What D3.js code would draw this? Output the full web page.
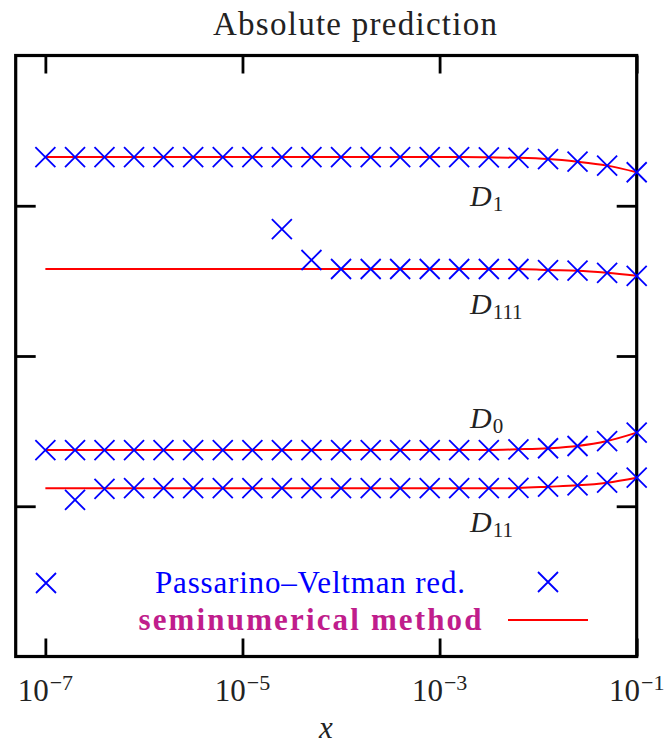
<!DOCTYPE html>
<html><head><meta charset="utf-8">
<script src="https://cdn.jsdelivr.net/npm/d3@7"></script>
<style>body{margin:0;background:#fff}</style>
</head><body>
<svg id="c" width="668" height="744"></svg>
<script>
// ---------- data ----------
const xValues = [1e-7, 2e-7, 3.98e-7, 7.94e-7, 1.58e-6, 3.16e-6, 6.31e-6, 1.26e-5, 2.51e-5, 5.01e-5,
                 1e-4, 2e-4, 3.98e-4, 7.94e-4, 1.58e-3, 3.16e-3, 6.31e-3, 1.26e-2, 2.51e-2, 5.01e-2, 1e-1];
// Passarino–Veltman reduction (crosses); null = no point
const pvD1   = [3.324,3.324,3.324,3.324,3.324,3.324,3.324,3.324,3.324,3.324,3.324,3.324,3.324,3.324,3.324,3.322,3.319,3.311,3.293,3.267,3.223];
const pvD111 = [null,null,null,null,null,null,null,null,2.845,2.639,2.579,2.579,2.579,2.579,2.579,2.579,2.579,2.572,2.568,2.554,2.534];
const pvD0   = [1.374,1.374,1.374,1.374,1.374,1.374,1.374,1.374,1.374,1.374,1.374,1.374,1.374,1.374,1.374,1.374,1.379,1.386,1.401,1.434,1.490];
const pvD11  = [null,1.042,1.115,1.120,1.120,1.120,1.120,1.120,1.120,1.120,1.120,1.120,1.120,1.120,1.120,1.120,1.123,1.130,1.139,1.157,1.190];
// seminumerical method (lines)
const snD1   = [3.324,3.324,3.324,3.324,3.324,3.324,3.324,3.324,3.324,3.324,3.324,3.324,3.324,3.324,3.324,3.322,3.319,3.311,3.293,3.267,3.223];
const snD111 = [2.579,2.579,2.579,2.579,2.579,2.579,2.579,2.579,2.579,2.579,2.579,2.579,2.579,2.579,2.579,2.579,2.579,2.572,2.568,2.554,2.534];
const snD0   = [1.374,1.374,1.374,1.374,1.374,1.374,1.374,1.374,1.374,1.374,1.374,1.374,1.374,1.374,1.374,1.374,1.379,1.386,1.401,1.434,1.490];
const snD11  = [1.119,1.119,1.119,1.119,1.119,1.119,1.119,1.119,1.119,1.119,1.119,1.119,1.119,1.119,1.119,1.119,1.122,1.130,1.139,1.157,1.190];
const seriesLabels = [
  {name:"D", sub:"1",   at:3.0},
  {name:"D", sub:"111", at:2.28},
  {name:"D", sub:"0",   at:1.52},
  {name:"D", sub:"11",  at:0.83}
];
const xTickExps = [-7, -5, -3, -1];
const yTicks = [1, 2, 3];
const titleText = "Absolute prediction";
const legendPV = "Passarino–Veltman red.";
const legendSN = "seminumerical method";

// ---------- layout ----------
const L = 15.7, R = 636.7, T = 55.5, B = 656.5;
const svg = d3.select("#c");
const serif = "'Liberation Serif', 'DejaVu Serif', serif";
const x = d3.scaleLog().domain([5e-8, 1e-1]).range([L, R]);
const y = d3.scaleLinear().domain([0, 4]).range([B, T]);

// title
svg.append("text").attr("x", 355).attr("y", 35).attr("text-anchor", "middle")
  .attr("font-family", serif).attr("font-size", 33).attr("fill", "#222")
  .attr("textLength", 284).attr("lengthAdjust", "spacing").text(titleText);

// ticks
const tickVals = xTickExps.map(e => Math.pow(10, e));
const axB = d3.axisBottom(x).tickValues(tickVals).tickSize(-18).tickFormat("");
const axT = d3.axisTop(x).tickValues(tickVals).tickSize(-18).tickFormat("");
const axL = d3.axisLeft(y).tickValues(yTicks).tickSize(-20).tickFormat("");
const axR = d3.axisRight(y).tickValues(yTicks).tickSize(-20).tickFormat("");
[[axB, `translate(0,${B})`], [axT, `translate(0,${T})`], [axL, `translate(${L},0)`], [axR, `translate(${R},0)`]]
  .forEach(([a, t]) => {
    const g = svg.append("g").attr("transform", t).call(a);
    g.select(".domain").remove();
    g.selectAll(".tick line").attr("stroke", "#000").attr("stroke-width", 2.8);
  });

// frame
svg.append("rect").attr("x", L).attr("y", T).attr("width", R - L).attr("height", B - T)
  .attr("fill", "none").attr("stroke", "#000").attr("stroke-width", 3.2);

// x tick labels
xTickExps.forEach(e => {
  const t = svg.append("text").attr("x", x(Math.pow(10, e))).attr("y", 700.7)
    .attr("text-anchor", "middle").attr("font-family", serif).attr("fill", "#222");
  t.append("tspan").attr("font-size", 31).text("10");
  t.append("tspan").attr("font-size", 22).attr("dy", -11).attr("dx", 1).text("−" + Math.abs(e));
});
svg.append("text").attr("x", 326).attr("y", 738).attr("text-anchor", "middle")
  .attr("font-family", serif).attr("font-style", "italic").attr("font-size", 31).attr("fill", "#222").text("x");

// lines
const line = d3.line().defined(d => d[1] != null).x(d => x(d[0])).y(d => y(d[1])).curve(d3.curveMonotoneX);
[snD1, snD111, snD0, snD11].forEach(s => {
  svg.append("path").datum(xValues.map((v, i) => [v, s[i]]))
    .attr("d", line).attr("fill", "none").attr("stroke", "#ff0000").attr("stroke-width", 2);
});

// crosses
const cross = "M-10,-10L10,10M-10,10L10,-10";
[pvD1, pvD111, pvD0, pvD11].forEach(s => {
  svg.append("g").selectAll("path")
    .data(xValues.map((v, i) => [v, s[i]]).filter(d => d[1] != null))
    .join("path").attr("d", cross)
    .attr("transform", d => `translate(${x(d[0])},${y(d[1])})`)
    .attr("fill", "none").attr("stroke", "#0000ff").attr("stroke-width", 1.8);
});

// series labels
seriesLabels.forEach(l => {
  const t = svg.append("text").attr("x", 470).attr("y", y(l.at)).attr("font-family", serif).attr("fill", "#222");
  t.append("tspan").attr("font-style", "italic").attr("font-size", 30).text(l.name);
  t.append("tspan").attr("font-size", 21).attr("dy", 5).attr("dx", 1).text(l.sub);
});

// legend
svg.append("path").attr("d", cross).attr("transform", "translate(46,583)")
  .attr("fill", "none").attr("stroke", "#0000ff").attr("stroke-width", 1.8);
svg.append("path").attr("d", cross).attr("transform", "translate(548,582)")
  .attr("fill", "none").attr("stroke", "#0000ff").attr("stroke-width", 1.8);
svg.append("text").attr("x", 310).attr("y", 593).attr("text-anchor", "middle")
  .attr("font-family", serif).attr("font-size", 31).attr("fill", "#0000ff")
  .attr("textLength", 310).attr("lengthAdjust", "spacing").text(legendPV);
svg.append("text").attr("x", 310).attr("y", 630).attr("text-anchor", "middle")
  .attr("font-family", serif).attr("font-size", 31).attr("font-weight", "bold").attr("fill", "#c01d8c")
  .attr("textLength", 343).attr("lengthAdjust", "spacing").text(legendSN);
svg.append("line").attr("x1", 508).attr("x2", 588).attr("y1", 620).attr("y2", 620)
  .attr("stroke", "#ff0000").attr("stroke-width", 2);
</script>
</body></html>
